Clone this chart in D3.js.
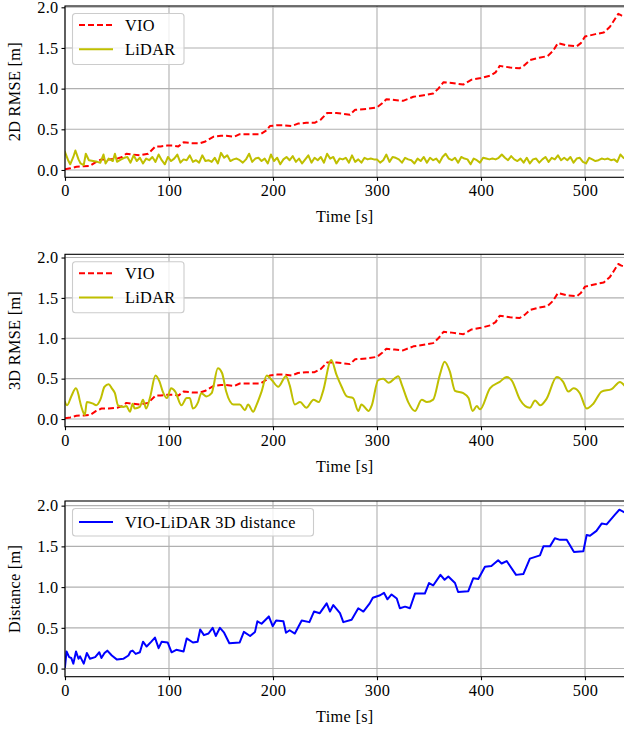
<!DOCTYPE html>
<html><head><meta charset="utf-8">
<script src="https://cdn.jsdelivr.net/npm/d3@7"></script>
<style>
body{margin:0;background:#fff}
svg{display:block}
text{font-family:"Liberation Serif","Times New Roman",serif;fill:#000;letter-spacing:0.3px}
</style>
</head><body><svg id="c" width="624" height="732"></svg>
<script>
const xTicks = [0, 100, 200, 300, 400, 500];
const yTicks = [0, 0.5, 1.0, 1.5, 2.0];
const xLabel = "Time [s]";
const yLabels = ["2D RMSE [m]", "3D RMSE [m]", "Distance [m]"];
const seriesNames = ["VIO", "LiDAR", "VIO-LiDAR 3D distance"];

const vio = [[0,0.01],[5,0.02],[11,0.04],[18,0.045],[24,0.05],[30,0.10],[35,0.13],[42,0.13],[50,0.14],[55,0.16],[59,0.20],[65,0.19],[72,0.18],[80,0.20],[87,0.29],[92,0.29],[98,0.30],[104,0.30],[109,0.29],[114,0.34],[122,0.33],[130,0.33],[135,0.35],[143,0.41],[150,0.42],[155,0.42],[163,0.41],[168,0.44],[178,0.44],[188,0.44],[193,0.48],[197,0.54],[204,0.55],[210,0.55],[218,0.54],[224,0.57],[232,0.58],[240,0.58],[246,0.62],[252,0.70],[261,0.70],[268,0.69],[274,0.68],[279,0.74],[290,0.75],[300,0.77],[305,0.82],[309,0.87],[317,0.86],[325,0.85],[335,0.90],[345,0.92],[354,0.94],[359,1.00],[364,1.08],[372,1.07],[383,1.05],[391,1.11],[400,1.13],[409,1.16],[414,1.20],[418,1.28],[428,1.26],[437,1.25],[442,1.29],[447,1.35],[456,1.38],[464,1.40],[469,1.46],[474,1.56],[483,1.53],[492,1.52],[496,1.56],[500,1.64],[510,1.67],[518,1.69],[524,1.76],[528,1.84],[532,1.92],[535,1.90],[538,1.89]];

const lidar2d = [[0,0.22],[3,0.12],[5,0.07],[8,0.16],[10,0.24],[13,0.13],[15,0.08],[18,0.06],[20,0.20],[23,0.12],[27,0.11],[31,0.10],[34,0.09],[37,0.19],[39,0.08],[42,0.14],[46,0.11],[48,0.20],[50,0.10],[54,0.13],[57,0.15],[60,0.16],[63,0.09],[66,0.18],[69,0.11],[72,0.15],[75,0.08],[78,0.14],[81,0.12],[84,0.16],[87,0.10],[90,0.19],[93,0.12],[96,0.07],[99,0.16],[102,0.11],[105,0.14],[108,0.19],[111,0.09],[114,0.13],[117,0.12],[120,0.18],[123,0.10],[126,0.12],[129,0.09],[132,0.18],[135,0.11],[138,0.12],[141,0.10],[144,0.15],[147,0.08],[150,0.21],[153,0.15],[156,0.18],[159,0.11],[162,0.13],[165,0.14],[168,0.12],[171,0.09],[174,0.13],[177,0.20],[180,0.10],[183,0.14],[186,0.15],[189,0.11],[192,0.14],[195,0.08],[198,0.19],[201,0.11],[204,0.15],[207,0.07],[210,0.13],[213,0.16],[216,0.12],[219,0.17],[222,0.10],[225,0.14],[228,0.08],[231,0.13],[234,0.18],[237,0.09],[240,0.15],[243,0.12],[246,0.16],[249,0.09],[252,0.20],[255,0.14],[258,0.16],[261,0.08],[264,0.14],[267,0.13],[270,0.15],[273,0.09],[276,0.18],[279,0.10],[282,0.13],[285,0.09],[288,0.15],[291,0.13],[294,0.14],[297,0.13],[300,0.13],[303,0.09],[306,0.12],[309,0.19],[312,0.10],[315,0.16],[318,0.15],[321,0.13],[324,0.09],[327,0.15],[330,0.13],[333,0.12],[336,0.08],[339,0.14],[342,0.11],[345,0.16],[348,0.09],[351,0.15],[354,0.12],[357,0.14],[360,0.09],[363,0.16],[366,0.20],[369,0.14],[372,0.12],[375,0.15],[378,0.09],[381,0.16],[384,0.14],[387,0.13],[390,0.07],[393,0.14],[396,0.12],[399,0.09],[402,0.15],[405,0.14],[408,0.13],[411,0.14],[414,0.13],[417,0.15],[420,0.19],[423,0.15],[426,0.12],[429,0.17],[432,0.13],[435,0.11],[438,0.14],[441,0.09],[444,0.15],[447,0.08],[450,0.13],[453,0.14],[456,0.09],[459,0.13],[462,0.16],[465,0.10],[468,0.15],[471,0.13],[474,0.18],[477,0.12],[480,0.15],[483,0.12],[486,0.16],[489,0.09],[492,0.14],[495,0.15],[498,0.10],[501,0.08],[504,0.15],[507,0.13],[510,0.11],[513,0.12],[516,0.14],[519,0.13],[522,0.14],[525,0.12],[528,0.13],[531,0.10],[534,0.19],[537,0.15]];

const lidar3d = [[0,0.21],[2,0.17],[6,0.28],[10.5,0.38],[13,0.30],[14,0.24],[18,0.07],[19,0.05],[21,0.21],[27,0.19],[30,0.17],[34,0.24],[38,0.40],[42,0.43],[45,0.38],[48,0.32],[51,0.17],[56,0.15],[59,0.16],[62.5,0.09],[65,0.19],[67,0.13],[72,0.15],[75,0.24],[78,0.13],[82,0.28],[87,0.54],[91,0.46],[94,0.34],[98,0.26],[102,0.38],[106,0.34],[112,0.17],[117,0.26],[120,0.26],[123,0.13],[128,0.21],[131,0.32],[136,0.28],[141,0.32],[147,0.63],[151,0.57],[155,0.34],[162,0.18],[168,0.18],[173,0.11],[176,0.18],[181,0.09],[184,0.17],[189,0.34],[194,0.54],[199,0.48],[205,0.40],[212.5,0.53],[216,0.42],[221,0.18],[226,0.21],[232,0.14],[239,0.24],[244,0.21],[248,0.34],[256,0.73],[261,0.55],[266,0.40],[271,0.28],[277,0.26],[282,0.10],[285,0.18],[292,0.10],[295,0.17],[301,0.48],[306,0.50],[311,0.45],[320.5,0.53],[324,0.42],[330,0.21],[336.5,0.10],[343,0.24],[348,0.21],[354,0.24],[360.5,0.55],[365,0.71],[370,0.59],[375,0.35],[383,0.32],[388,0.26],[392,0.10],[396,0.16],[399,0.12],[408.6,0.38],[418,0.46],[424.7,0.52],[429.5,0.48],[437.5,0.24],[447,0.14],[452,0.23],[457,0.17],[463,0.25],[472.8,0.52],[479,0.46],[484,0.34],[489,0.38],[495,0.32],[501.6,0.13],[508,0.19],[516,0.34],[525.6,0.37],[533.7,0.46],[537.5,0.42]];

const dist = [[0,0.02],[1.5,0.21],[4,0.14],[6,0.13],[8,0.06],[10.6,0.21],[13,0.12],[14.5,0.15],[18,0.06],[21,0.19],[24,0.12],[29,0.14],[33,0.20],[35,0.13],[38,0.19],[40.7,0.22],[45,0.16],[50,0.11],[56,0.12],[61,0.16],[63,0.21],[65,0.22],[68,0.18],[72,0.20],[75,0.33],[78.5,0.27],[83,0.33],[86.5,0.38],[90,0.25],[93,0.33],[98.7,0.32],[102.5,0.20],[107,0.23],[114,0.21],[117,0.37],[123,0.32],[127.5,0.33],[130,0.48],[133.6,0.41],[138,0.43],[142,0.50],[145,0.40],[149,0.50],[153,0.44],[158,0.31],[168,0.32],[172,0.45],[178,0.40],[182.7,0.45],[185,0.58],[189,0.55],[196,0.64],[199.7,0.52],[203,0.59],[210,0.58],[212.5,0.44],[216,0.47],[221,0.43],[227.6,0.59],[235,0.57],[239.4,0.70],[245,0.68],[251.6,0.80],[254.8,0.70],[258,0.78],[264.4,0.68],[267.6,0.57],[275.6,0.60],[282,0.74],[286.9,0.70],[293,0.80],[296,0.87],[303,0.90],[306.7,0.93],[310,0.85],[314,0.91],[319,0.86],[322,0.74],[327,0.76],[331.7,0.74],[336.5,0.92],[346,0.92],[350,1.05],[354,1.02],[361,1.15],[365,1.09],[368.6,1.13],[375,1.05],[378,0.94],[387.8,0.95],[392.6,1.11],[397.4,1.10],[403.8,1.25],[410,1.26],[416.5,1.33],[419.8,1.29],[424.7,1.32],[433.7,1.15],[440.7,1.16],[447,1.35],[456.7,1.39],[460,1.50],[466.3,1.50],[471,1.60],[476,1.58],[482.4,1.58],[489.4,1.43],[498.4,1.44],[501.6,1.64],[504.8,1.63],[511,1.69],[516,1.78],[520.8,1.77],[528.8,1.89],[533,1.95],[537.5,1.92]];

const xDomain = [0, 540];
const yDomains = [[-0.09, 2.016], [-0.095, 2.04], [-0.1, 2.057]];

// layout
const svg = d3.select("#c");
const left = 65, right = 626.6;
const panels = [
  {top: 6, bottom: 177.3, ydom: yDomains[0], ylabel: yLabels[0], legendW: 111.5,
   series: [{data: vio, color: "#ff0000", dash: "6,3", name: seriesNames[0]},
            {data: lidar2d, color: "#bfbf00", name: seriesNames[1]}]},
  {top: 254.3, bottom: 426.7, ydom: yDomains[1], ylabel: yLabels[1], legendW: 111.5,
   series: [{data: vio, color: "#ff0000", dash: "6,3", name: seriesNames[0]},
            {data: lidar3d, color: "#bfbf00", name: seriesNames[1], curve: d3.curveMonotoneX}]},
  {top: 501, bottom: 676.7, ydom: yDomains[2], ylabel: yLabels[2], legendW: 241,
   series: [{data: dist, color: "#0000ff", name: seriesNames[2]}]}
];

const x = d3.scaleLinear().domain(xDomain).range([left, right]);
const FS = 16.3;

panels.forEach((p, i) => {
  const y = d3.scaleLinear().domain(p.ydom).range([p.bottom, p.top]);
  const g = svg.append("g");
  const cid = "clip" + i;
  svg.append("clipPath").attr("id", cid).append("rect")
    .attr("x", left).attr("y", p.top).attr("width", right - left).attr("height", p.bottom - p.top);

  // grid
  g.append("g").selectAll("line").data(xTicks).join("line")
    .attr("x1", d => x(d)).attr("x2", d => x(d)).attr("y1", p.top).attr("y2", p.bottom)
    .attr("stroke", "#b0b0b0").attr("stroke-width", 1.1);
  g.append("g").selectAll("line").data(yTicks).join("line")
    .attr("x1", left).attr("x2", right).attr("y1", d => y(d)).attr("y2", d => y(d))
    .attr("stroke", "#b0b0b0").attr("stroke-width", 1.1);

  // series
  p.series.forEach(s => {
    const line = d3.line().x(d => x(d[0])).y(d => y(d[1])).curve(s.curve || d3.curveLinear);
    g.append("path").datum(s.data).attr("d", line)
      .attr("fill", "none").attr("stroke", s.color).attr("stroke-width", 2)
      .attr("stroke-dasharray", s.dash || null)
      .attr("stroke-linejoin", "round").attr("stroke-linecap", s.dash ? "butt" : "square")
      .attr("clip-path", `url(#${cid})`);
  });

  // spines
  g.append("rect").attr("x", left).attr("y", p.top).attr("width", right - left).attr("height", p.bottom - p.top)
    .attr("fill", "none").attr("stroke", "#000").attr("stroke-width", 1.1);

  // axes
  const ax = g.append("g").attr("transform", `translate(0,${p.bottom})`)
    .call(d3.axisBottom(x).tickValues(xTicks).tickSize(3.5).tickPadding(4).tickFormat(d3.format("d")));
  const ay = g.append("g").attr("transform", `translate(${left},0)`)
    .call(d3.axisLeft(y).tickValues(yTicks).tickSize(3.5).tickPadding(3).tickFormat(d3.format(".1f")));
  [ax, ay].forEach(a => {
    a.select(".domain").remove();
    a.selectAll("line").attr("stroke", "#000").attr("stroke-width", 1.1);
    a.selectAll("text").attr("font-size", FS).attr("font-family", '"Liberation Serif", serif');
  });

  // axis labels
  g.append("text").attr("x", (left + right) / 2 - 1).attr("y", p.bottom + 45)
    .attr("text-anchor", "middle").attr("font-size", FS).text(xLabel);
  g.append("text").attr("transform", `translate(19.5,${(p.top + p.bottom) / 2}) rotate(-90)`)
    .attr("text-anchor", "middle").attr("font-size", FS).text(p.ylabel);

  // legend
  const lg = g.append("g").attr("transform", `translate(72.5,${p.top + 7.5})`);
  const n = p.series.length;
  lg.append("rect").attr("width", p.legendW).attr("height", n > 1 ? 51 : 27.5)
    .attr("rx", 3).attr("fill", "#fff").attr("fill-opacity", 0.8)
    .attr("stroke", "#cccccc").attr("stroke-width", 1.1);
  p.series.forEach((s, k) => {
    const cy = (n > 1 ? 11.5 : 13.5) + k * 24.3;
    lg.append("line").attr("x1", 6.5).attr("x2", 40.5).attr("y1", cy).attr("y2", cy)
      .attr("stroke", s.color).attr("stroke-width", 2).attr("stroke-dasharray", s.dash || null);
    lg.append("text").attr("x", 52.5).attr("y", cy + 5.5).attr("font-size", FS).text(s.name);
  });
});
</script>
</body></html>
